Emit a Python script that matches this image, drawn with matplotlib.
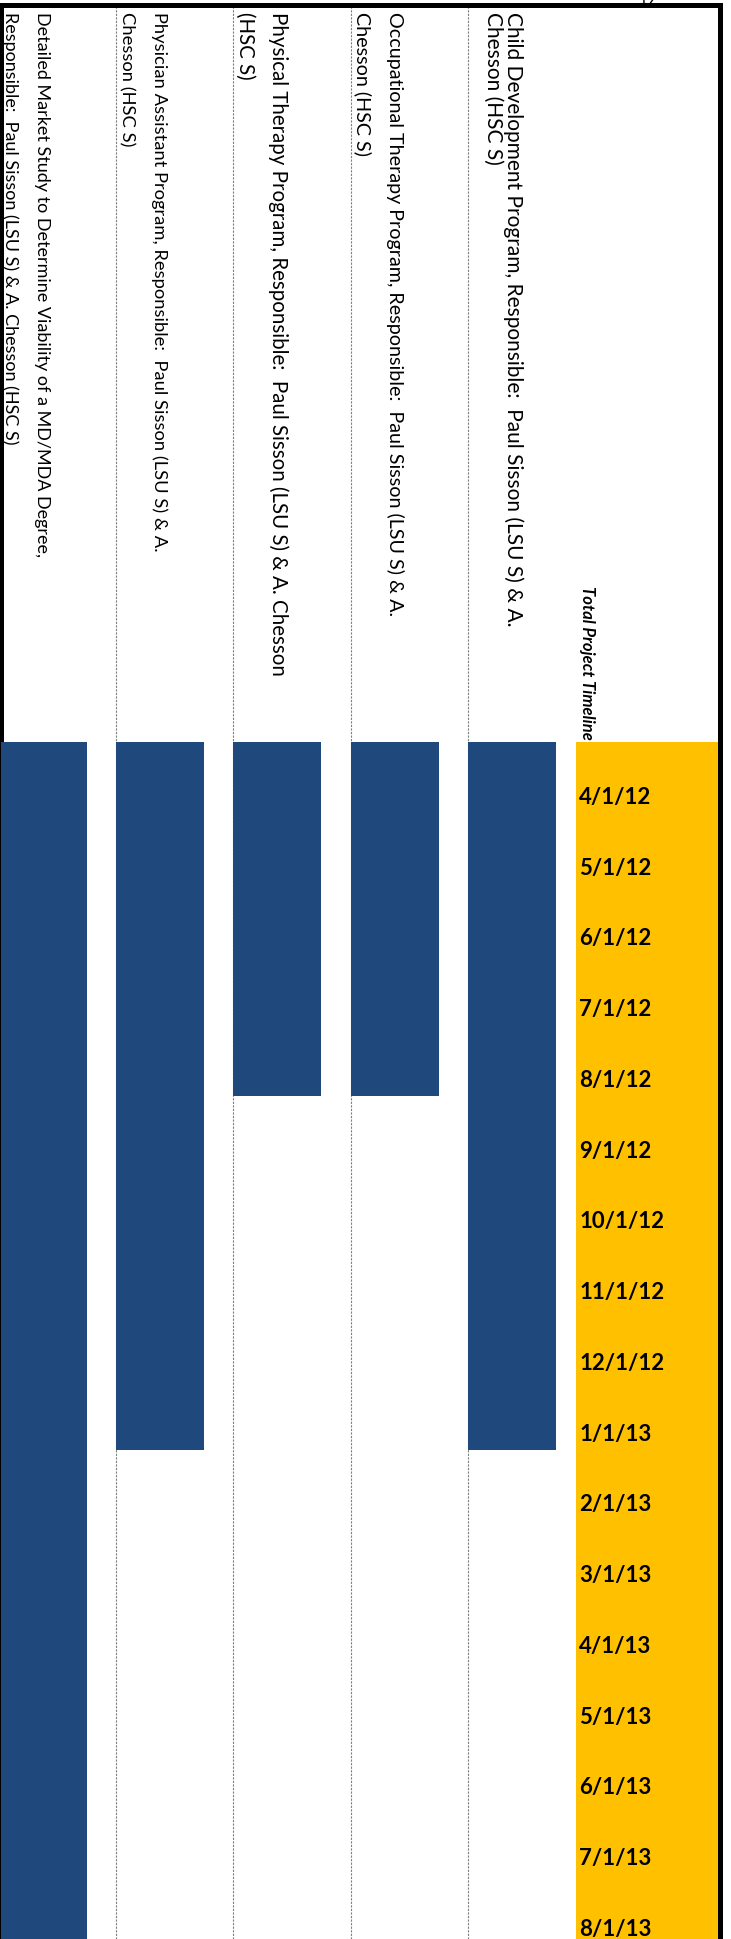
import pandas as pd
import matplotlib.pyplot as plt

# task rows, listed from the left edge of the page to the right
label_line1 = [
    'Detailed Market Study to Determine Viability of a MD/MDA Degree,',
    'Physician Assistant Program, Responsible:  Paul Sisson (LSU S) & A.',
    'Physical Therapy Program, Responsible:  Paul Sisson (LSU S) & A. Chesson',
    'Occupational Therapy Program, Responsible:  Paul Sisson (LSU S) & A.',
    'Child Development Program, Responsible:  Paul Sisson (LSU S) & A.',
]
label_line2 = [
    'Responsible:  Paul Sisson (LSU S) & A. Chesson (HSC S)',
    'Chesson (HSC S)',
    '(HSC S)',
    'Chesson (HSC S)',
    'Chesson (HSC S)',
]
task_start = ['4/1/12', '4/1/12', '4/1/12', '4/1/12', '4/1/12']
task_end = ['9/1/13', '2/1/13', '9/1/12', '9/1/12', '2/1/13']

total_label = 'Total Project Timeline'
total_start = '4/1/12'
total_end = '9/1/13'

month_labels = ['4/1/12', '5/1/12', '6/1/12', '7/1/12', '8/1/12', '9/1/12',
                '10/1/12', '11/1/12', '12/1/12', '1/1/13', '2/1/13', '3/1/13',
                '4/1/13', '5/1/13', '6/1/13', '7/1/13', '8/1/13']

BLUE = '#1F497D'
GOLD = '#FFC000'
FONT = ['Lato', 'DejaVu Sans']


def month_index(s):
    d = pd.to_datetime(s, format='%m/%d/%y')
    return (d.year - 2012) * 12 + d.month - 4


starts = [month_index(s) for s in task_start]
ends = [month_index(s) for s in task_end]
durations = [e - s for s, e in zip(starts, ends)]

# page geometry in pixels, used to place the axes on the sheet
W, H = 731, 1940
row_px = 117.3
month_px = 70.75
origin_px = 743
left_px, right_px, top_px = 1, 719.5, 5.5

fig = plt.figure(figsize=(W / 100, H / 100), dpi=100)
ax = fig.add_axes([left_px / W, 0, (right_px - left_px) / W, 1 - top_px / H])

ax.set_xlim((left_px + 1.3) / row_px, (right_px + 1.3) / row_px)
ax.set_ylim((H - origin_px) / month_px, (top_px - origin_px) / month_px)

# row separators
for i in range(1, len(label_line1)):
    ax.axvline(i, color='#7f7f7f', linewidth=0.8, linestyle=(0, (2, 1.2)), zorder=1)

# total timeline band
t0 = month_index(total_start)
ax.bar(4.92, month_index(total_end) - t0, bottom=t0, width=2, align='edge',
       color=GOLD, zorder=2)

# task bars
rows = list(range(len(label_line1)))
ax.bar(rows, durations, bottom=starts, width=0.75, align='edge', color=BLUE, zorder=3)

# task labels, rotated to read down the page
text_top = (12 - origin_px) / month_px
line1_off = [0.325, 0.325, 0.33, 0.33, 0.33]
line2_off = [0.05, 0.05, 0.05, 0.05, 0.16]
label_size = [13, 13.2, 14.8, 14.2, 15]
for i in rows:
    ax.text(i + line1_off[i], text_top, label_line1[i], rotation=-90, rotation_mode='anchor',
            ha='left', va='baseline', fontsize=label_size[i], family=FONT, zorder=4)
    ax.text(i + line2_off[i], text_top, label_line2[i], rotation=-90, rotation_mode='anchor',
            ha='left', va='baseline', fontsize=label_size[i], family=FONT, zorder=4)

ax.text(4.975, -0.05, total_label, rotation=-90, rotation_mode='anchor',
        ha='right', va='baseline', fontsize=12, fontweight='bold', fontstyle='italic',
        family=FONT, zorder=4)

# month labels in the gold band
for k, lab in enumerate(month_labels):
    ax.text(4.948, k + 1 - 0.14, lab, ha='left', va='baseline', fontsize=16,
            fontweight='bold', family=FONT, zorder=4)

ax.set_xticks([])
ax.set_yticks([])
for side in ['top', 'left', 'right']:
    ax.spines[side].set_linewidth(3.6)
    ax.spines[side].set_color('black')
ax.spines['bottom'].set_visible(False)

fig.text(648 / W, 1.0, '19', ha='center', va='center', fontsize=11, family=FONT)

fig.savefig('out.png', dpi=100)
